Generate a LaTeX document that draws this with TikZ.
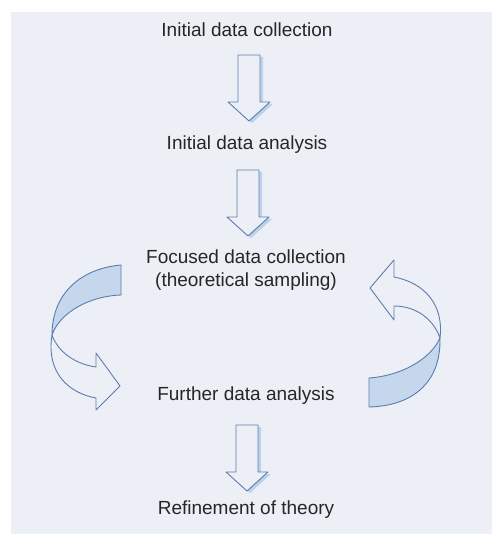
\documentclass[tikz,border=0pt]{standalone}
\usepackage{fontspec}
\setmainfont{Liberation Sans}
\usetikzlibrary{calc}
\definecolor{bg}{HTML}{EDEFF6}
\definecolor{edge}{HTML}{5B7DAE}
\definecolor{band}{HTML}{C4D7ED}
\definecolor{shadowc}{HTML}{BDD1EA}
\begin{document}
\begin{tikzpicture}[x=1pt,y=-1pt,
  lbl/.style={font=\fontsize{19}{23}\selectfont, text=black!85, inner sep=0pt, align=center},
  outl/.style={draw=edge, line width=0.9pt, line join=round},
  blockarrow/.pic={
    \fill[shadowc] (-8,2) -- (14,2) -- (14,49) -- (24,49) -- (3,68) -- (-18,49) -- (-8,49) -- cycle;
    \draw[outl, fill=bg] (-11,0) -- (11,0) -- (11,47) -- (21,47) -- (0,66) -- (-21,47) -- (-11,47) -- cycle;
  }]
\useasboundingbox (0,0) rectangle (492,534);
\fill[white] (0,0) rectangle (492,534);
\fill[bg] (11,12) rectangle (492,534);

% text nodes
\node[lbl] (n1) at (247,30) {Initial data collection};
\node[lbl] (n2) at (247,145) {Initial data analysis};
\node[lbl] (n3) at (246,270) {Focused data collection\\(theoretical sampling)};
\node[lbl] (n4) at (246,396) {Further data analysis};
\node[lbl] (n5) at (246,510) {Refinement of theory};

% straight block arrows
\coordinate (a1) at (249,55);
\coordinate (a2) at (248,170);
\coordinate (a3) at (247,425);
\pic at (a1) {blockarrow};
\pic at (a2) {blockarrow};
\pic at (a3) {blockarrow};

% left curved arrow (from focused collection to further analysis)
\coordinate (lx) at (52,335);
\fill[band] (121,265) .. controls (85,268) and (52,290) .. (lx)
  .. controls (60,312) and (90,296) .. (121,295) -- cycle;
\draw[outl] (121,265) .. controls (85,268) and (52,290) .. (lx)
  .. controls (60,312) and (90,296) .. (121,295) -- cycle;
\draw[outl, fill=bg] (lx) .. controls (58,352) and (75,364) .. (96,367)
  -- (96,353) -- (120,386) -- (96,410) -- (96,398)
  .. controls (68,393) and (46,372) .. (lx) -- cycle;

% right curved arrow (from further analysis back to focused collection)
\coordinate (rx) at (440,338);
\fill[band] (369,378) .. controls (400,376) and (430,360) .. (rx)
  .. controls (441,385) and (410,406) .. (369,407) -- cycle;
\draw[outl] (369,378) .. controls (400,376) and (430,360) .. (rx)
  .. controls (441,385) and (410,406) .. (369,407) -- cycle;
\draw[outl, fill=bg] (rx) .. controls (444,305) and (425,283) .. (394,277)
  -- (394,260) -- (370,288) -- (394,320) -- (394,306)
  .. controls (415,306) and (433,318) .. (rx) -- cycle;
\end{tikzpicture}
\end{document}
